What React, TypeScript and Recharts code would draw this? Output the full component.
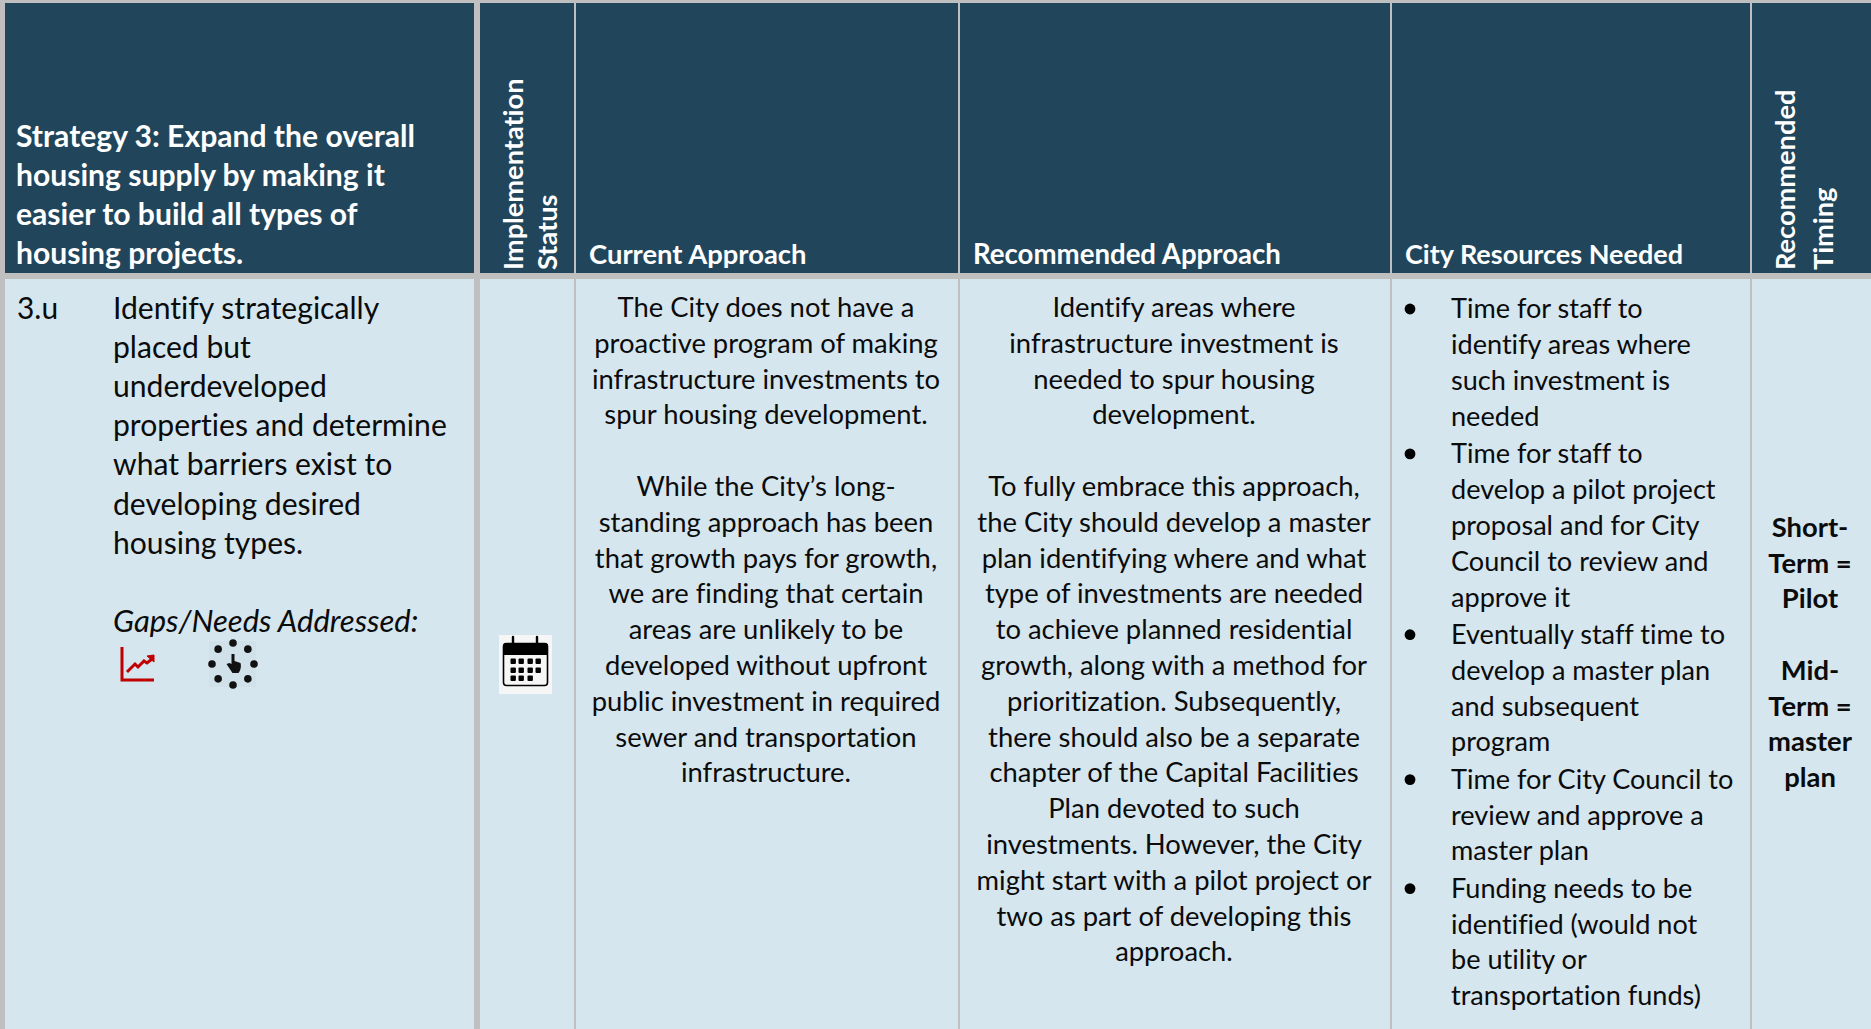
/**
 * Strategy 3 table row, drawn on a Recharts plot: cells are reference areas,
 * text lines and icons are scatter points placed through the axes.
 */
import { ComposedChart, Scatter, XAxis, YAxis, ReferenceArea } from "recharts";

const WIDTH = 1871;
const HEIGHT = 1029;
const FONT = "Lato, Carlito, Calibri, sans-serif";
const HEADER_BG = "#21465b";
const BODY_BG = "#d5e6ef";
const GRID_BG = "#bfbfbf";
const INK = "#0b0b0b";

const strategyTitle = [
  "Strategy 3: Expand the overall",
  "housing supply by making it",
  "easier to build all types of",
  "housing projects.",
];
const statusHeader = ["Implementation", "Status"];
const timingHeader = ["Recommended", "Timing"];
const columnHeaders = ["Current Approach", "Recommended Approach", "City Resources Needed"];

const itemId = "3.u";
const itemLines = [
  "Identify strategically",
  "placed but",
  "underdeveloped",
  "properties and determine",
  "what barriers exist to",
  "developing desired",
  "housing types.",
  "",
];
const gapsLabel = "Gaps/Needs Addressed:";

const currentApproach = [
  "The City does not have a",
  "proactive program of making",
  "infrastructure investments to",
  "spur housing development.",
  "",
  "While the City\u2019s long-",
  "standing approach has been",
  "that growth pays for growth,",
  "we are finding that certain",
  "areas are unlikely to be",
  "developed without upfront",
  "public investment in required",
  "sewer and transportation",
  "infrastructure.",
];
const recommendedApproach = [
  "Identify areas where",
  "infrastructure investment is",
  "needed to spur housing",
  "development.",
  "",
  "To fully embrace this approach,",
  "the City should develop a master",
  "plan identifying where and what",
  "type of investments are needed",
  "to achieve planned residential",
  "growth, along with a method for",
  "prioritization. Subsequently,",
  "there should also be a separate",
  "chapter of the Capital Facilities",
  "Plan devoted to such",
  "investments. However, the City",
  "might start with a pilot project or",
  "two as part of developing this",
  "approach.",
];
const cityResources = [
  ["Time for staff to", "identify areas where", "such investment is", "needed"],
  ["Time for staff to", "develop a pilot project", "proposal and for City", "Council to review and", "approve it"],
  ["Eventually staff time to", "develop a master plan", "and subsequent", "program"],
  ["Time for City Council to", "review and approve a", "master plan"],
  ["Funding needs to be", "identified (would not", "be utility or", "transportation funds)"],
];
const timingLines = ["Short-", "Term =", "Pilot", "", "Mid-", "Term =", "master", "plan"];

// table layout, in page pixels
const COLS = [
  [5, 474],
  [480, 574],
  [576, 958],
  [960, 1390],
  [1392, 1750],
  [1752, 1871],
];
const HEAD_Y = [3, 273];
const BODY_Y = [279, 1029];
const BODY_SIZE = 27.4;
const LEAD_SIZE = 29.9;

type TextPoint = {
  x: number;
  y: number;
  text: string;
  size: number;
  color: string;
  weight?: number;
  anchor?: string;
  italic?: boolean;
  rotate?: boolean;
};

const block = (lines: string[], x: number, y0: number, step: number, rest: Partial<TextPoint>): TextPoint[] =>
  lines
    .map((text, i) => ({ x, y: y0 + i * step, text, size: BODY_SIZE, color: INK, ...rest }))
    .filter((p) => p.text);

const resourcePoints: TextPoint[] = [];
const bulletPoints: { x: number; y: number }[] = [];
let resourceY = 318;
cityResources.forEach((group) => {
  bulletPoints.push({ x: 1410, y: resourceY - 9 });
  group.forEach((text) => {
    resourcePoints.push({ x: 1451, y: resourceY, text, size: 27.1, color: INK });
    resourceY += 35.9;
  });
  resourceY += 1.3;
});

const textPoints: TextPoint[] = [
  ...block(strategyTitle, 16, 147, 39, { size: 30.1, color: "#fff", weight: 700 }),
  ...block(statusHeader, 523, 270, 0, { size: 27.2, color: "#fff", weight: 700, rotate: true }).map((p, i) => ({
    ...p,
    x: 523 + i * 34,
  })),
  ...block(timingHeader, 1795, 270, 0, { size: 27.2, color: "#fff", weight: 700, rotate: true }).map((p, i) => ({
    ...p,
    x: 1795 + i * 38,
  })),
  { x: 589, y: 264, text: columnHeaders[0], size: 27.4, color: "#fff", weight: 700 },
  { x: 973, y: 264, text: columnHeaders[1], size: 27.6, color: "#fff", weight: 700 },
  { x: 1405, y: 264, text: columnHeaders[2], size: 27, color: "#fff", weight: 700 },
  { x: 17, y: 319, text: itemId, size: LEAD_SIZE, color: INK },
  ...block(itemLines, 113, 319, 39.1, { size: 30.1 }),
  { x: 113, y: 632, text: gapsLabel, size: 31, color: INK, italic: true },
  ...block(currentApproach, 766, 317, 35.8, { anchor: "middle" }),
  ...block(recommendedApproach, 1174, 317, 35.8, { anchor: "middle" }),
  ...resourcePoints,
  ...block(timingLines, 1810, 537, 35.7, { anchor: "middle", weight: 700 }),
];

const iconPoints = [
  { x: 121, y: 647, icon: "trend" },
  { x: 233, y: 664, icon: "clock" },
  { x: 499, y: 635, icon: "calendar" },
];

function TextLine({ cx, cy, payload }: any) {
  const p = payload as TextPoint;
  return (
    <text
      x={cx}
      y={cy}
      fontFamily={FONT}
      fontSize={p.size}
      fontWeight={p.weight ?? 400}
      fontStyle={p.italic ? "italic" : "normal"}
      fill={p.color}
      textAnchor={p.anchor ?? "start"}
      style={{ fontVariantLigatures: "none" }}
      transform={p.rotate ? `rotate(-90 ${cx} ${cy})` : undefined}
    >
      {p.text}
    </text>
  );
}

function Bullet({ cx, cy }: any) {
  return <circle cx={cx} cy={cy} r={5.4} fill="#000" />;
}

function TrendIcon({ x, y }: { x: number; y: number }) {
  return (
    <g fill="none" stroke="#c00000">
      <path d={`M${x + 1} ${y}V${y + 33}H${x + 33}`} strokeWidth={3} />
      <path d={`M${x + 6} ${y + 25}l8 -8 3 3 6 -6 3 2 5 -4`} strokeWidth={3} />
      <path d={`M${x + 26} ${y + 9}l7 -1v7z`} fill="#c00000" strokeWidth={1} />
    </g>
  );
}

function ClockIcon({ x, y }: { x: number; y: number }) {
  const angles = [0, 45, 90, 135, 180, 225, 270, 315];
  return (
    <g fill="#111">
      <rect x={x - 24} y={y - 23} width={47} height={46} fill="#d0e1ea" />
      {angles.map((a) => (
        <circle
          key={a}
          cx={x + 21 * Math.cos((a * Math.PI) / 180)}
          cy={y + 21 * Math.sin((a * Math.PI) / 180)}
          r={3.8}
        />
      ))}
      <path d={`M${x - 1.5} ${y - 10}h3v7l6 2c1 3 0 8 -2 10h-6l-6 -9 3 -1 2 1z`} />
    </g>
  );
}

function CalendarIcon({ x, y }: { x: number; y: number }) {
  const cols = [14, 22, 31, 39];
  const rows = [26, 35, 43];
  return (
    <g>
      <rect x={x} y={y} width={53} height={59} fill="#f6f6f6" />
      <rect x={x + 4.5} y={y + 8.5} width={44} height={42} rx={3} fill="#f6f6f6" stroke="#000" strokeWidth={1.6} />
      <path d={`M${x + 4} ${y + 11}q0 -3 3 -3h39q3 0 3 3v9h-45z`} fill="#000" />
      {[14, 38].map((dx) => (
        <path key={dx} d={`M${x + dx} ${y + 2}v12`} stroke="#000" strokeWidth={2.4} strokeLinecap="round" />
      ))}
      {rows.map((ry, r) =>
        cols
          .filter((_, c) => r < 2 || c < 3)
          .map((cxo) => <rect key={`${r}-${cxo}`} x={x + cxo - 2.5} y={y + ry - 2.5} width={5.4} height={5.4} rx={1} />),
      )}
    </g>
  );
}

function Icon({ cx, cy, payload }: any) {
  if (payload.icon === "trend") return <TrendIcon x={cx} y={cy} />;
  if (payload.icon === "clock") return <ClockIcon x={cx} y={cy} />;
  return <CalendarIcon x={cx} y={cy} />;
}

export default function App() {
  return (
    <div style={{ position: "absolute", left: 0, top: 0, width: WIDTH, height: HEIGHT, background: GRID_BG }}>
      <ComposedChart width={WIDTH} height={HEIGHT} margin={{ top: 0, right: 0, bottom: 0, left: 0 }}>
        <XAxis type="number" dataKey="x" domain={[0, WIDTH]} hide allowDataOverflow />
        <YAxis type="number" dataKey="y" domain={[0, HEIGHT]} reversed hide allowDataOverflow />
        {COLS.map(([x1, x2]) => (
          <ReferenceArea key={`h${x1}`} x1={x1} x2={x2} y1={HEAD_Y[0]} y2={HEAD_Y[1]} fill={HEADER_BG} fillOpacity={1} stroke="none" />
        ))}
        {COLS.map(([x1, x2]) => (
          <ReferenceArea key={`b${x1}`} x1={x1} x2={x2} y1={BODY_Y[0]} y2={BODY_Y[1]} fill={BODY_BG} fillOpacity={1} stroke="none" />
        ))}
        <Scatter data={iconPoints} shape={<Icon />} isAnimationActive={false} />
        <Scatter data={bulletPoints} shape={<Bullet />} isAnimationActive={false} />
        <Scatter data={textPoints} shape={<TextLine />} isAnimationActive={false} />
      </ComposedChart>
    </div>
  );
}
